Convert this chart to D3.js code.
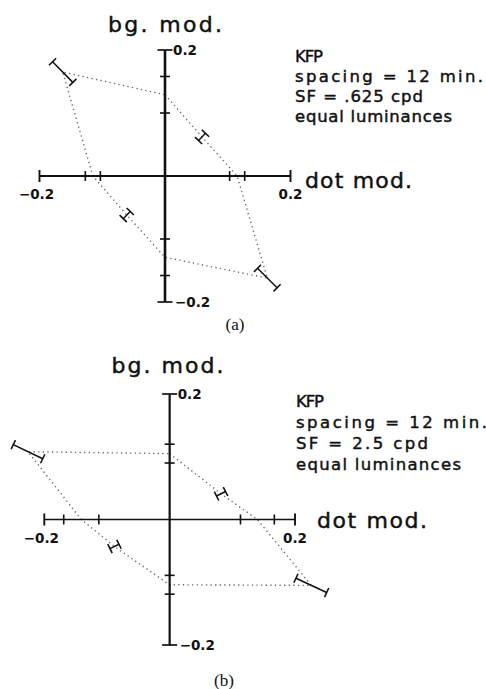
<!DOCTYPE html>
<html><head><meta charset="utf-8">
<script src="https://cdn.jsdelivr.net/npm/d3@7"></script>
<style>body{margin:0;background:#fff}</style>
</head><body>
<script>
// Threshold contours: dot modulation (x) against background modulation (y),
// measured along eight directions; err is the standard error along each direction.
const panelLabels = ["(a)", "(b)"];
const observer = "KFP";
const spacingLabel = "spacing = 12 min.";
const sfLabels = ["SF = .625 cpd", "SF = 2.5 cpd"];
const lumLabel = "equal luminances";
const xTitle = "dot mod.";
const yTitle = "bg. mod.";
const axisEnds = [-0.2, 0.2];

const dotModA = [0, 0.059, 0.115, 0.163, 0, -0.061, -0.115, -0.163];
const bgModA  = [0.129, 0.062, 0, -0.162, -0.129, -0.062, 0, 0.165];
const errA    = [0.029, 0.008, 0.012, 0.022, 0.029, 0.008, 0.012, 0.023];

const dotModB = [0, 0.082, 0.140, 0.226, 0, -0.088, -0.141, -0.226];
const bgModB  = [0.105, 0.041, 0, -0.105, -0.104, -0.043, 0, 0.108];
const errB    = [0.015, 0.008, 0.027, 0.027, 0.015, 0.008, 0.028, 0.026];

const W = 486, H = 689;
const svg = d3.select("body").append("svg").attr("width", W).attr("height", H);

const panels = [
  { xs: dotModA, ys: bgModA, es: errA, sf: sfLabels[0], cap: panelLabels[0],
    xr: [39.5, 290.5], yr: [302, 50], yAxisW: 2.6, xAxisW: 1.8,
    title: { x: 165, y: 32, len: 114 },
    note: { x: 295, y: 62, dy: 20, lens: [28, 188, 128, 157] },
    xt: { x: 305, y: 188, len: 107 },
    capPos: { x: 235, y: 330 } },
  { xs: dotModB, ys: bgModB, es: errB, sf: sfLabels[1], cap: panelLabels[1],
    xr: [44.3, 295], yr: [645, 394], yAxisW: 2.2, xAxisW: 1.6,
    title: { x: 167.5, y: 373, len: 112 },
    note: { x: 296, y: 407, dy: 21, lens: [28, 191, 132, 165] },
    xt: { x: 317, y: 528, len: 110 },
    capPos: { x: 224, y: 686 } }
];

const sans = "'DejaVu Sans', 'Noto Sans', sans-serif";
const ink = "#111";

panels.forEach(p => {
  const x = d3.scaleLinear().domain(axisEnds).range(p.xr);
  const y = d3.scaleLinear().domain(axisEnds).range(p.yr);
  const g = svg.append("g");
  const pts = p.xs.map((v, i) => ({ x: v, y: p.ys[i], e: p.es[i] }));

  // dotted contour through the eight thresholds
  g.append("path")
    .datum(pts)
    .attr("d", d3.line().x(d => x(d.x)).y(d => y(d.y)).curve(d3.curveLinearClosed))
    .attr("fill", "none")
    .attr("stroke", "#666")
    .attr("stroke-width", 1.4)
    .attr("stroke-dasharray", "1.3 3.3");

  // axes with end caps
  g.append("line").attr("x1", x(axisEnds[0])).attr("x2", x(axisEnds[1]))
    .attr("y1", y(0)).attr("y2", y(0))
    .attr("stroke", ink).attr("stroke-width", p.xAxisW);
  g.append("line").attr("x1", x(0)).attr("x2", x(0))
    .attr("y1", y(axisEnds[0])).attr("y2", y(axisEnds[1]))
    .attr("stroke", ink).attr("stroke-width", p.yAxisW);
  axisEnds.forEach(v => {
    g.append("line").attr("x1", x(v)).attr("x2", x(v))
      .attr("y1", y(0) - 6).attr("y2", y(0) + 6)
      .attr("stroke", ink).attr("stroke-width", 1.9);
    g.append("line").attr("x1", x(0) - 7.5).attr("x2", x(0) + 7.5)
      .attr("y1", y(v)).attr("y2", y(v))
      .attr("stroke", ink).attr("stroke-width", 1.7);
  });

  // error bars along each measurement direction, caps perpendicular
  pts.forEach(d => {
    const r = Math.hypot(d.x, d.y);
    const ux = d.x / r, uy = d.y / r;
    const a = [d.x - d.e * ux, d.y - d.e * uy];
    const b = [d.x + d.e * ux, d.y + d.e * uy];
    const onAxis = d.x === 0 || d.y === 0;
    const half = onAxis ? 5 : 5;
    // perpendicular in pixel space (y scale is inverted)
    const px = -uy, py = -ux;
    if (!onAxis) {
      g.append("line").attr("x1", x(a[0])).attr("y1", y(a[1]))
        .attr("x2", x(b[0])).attr("y2", y(b[1]))
        .attr("stroke", ink).attr("stroke-width", 1.5);
    }
    [a, b].forEach(e => {
      g.append("line")
        .attr("x1", x(e[0]) + px * half).attr("y1", y(e[1]) + py * half)
        .attr("x2", x(e[0]) - px * half).attr("y2", y(e[1]) - py * half)
        .attr("stroke", ink).attr("stroke-width", 1.6);
    });
  });

  // tick labels at the axis ends
  const lab = (t, tx, ty, anchor) => {
    g.append("text").text(t).attr("x", tx).attr("y", ty).attr("text-anchor", anchor)
      .attr("font-family", sans).attr("font-size", 13.5).attr("font-weight", "bold")
      .attr("fill", ink);
  };
  const fmt = v => (v < 0 ? "\u22120.2" : "0.2");
  lab(fmt(axisEnds[0]), x(axisEnds[0]) - 3, y(0) + 23, "middle");
  lab(fmt(axisEnds[1]), x(axisEnds[1]), y(0) + 23, "middle");
  lab(fmt(axisEnds[1]), x(0) + 8, y(axisEnds[1]) + 5, "start");
  lab(fmt(axisEnds[0]), x(0) + 10, y(axisEnds[0]) + 5, "start");

  // axis titles
  const heavy = s => s.attr("stroke", ink).attr("stroke-width", 0.45).attr("fill", ink);
  heavy(g.append("text").text(yTitle)
    .attr("x", p.title.x - p.title.len / 2).attr("y", p.title.y)
    .attr("textLength", p.title.len).attr("lengthAdjust", "spacing")
    .attr("font-family", sans).attr("font-size", 22));
  heavy(g.append("text").text(xTitle)
    .attr("x", p.xt.x).attr("y", p.xt.y)
    .attr("textLength", p.xt.len).attr("lengthAdjust", "spacing")
    .attr("font-family", sans).attr("font-size", 22));

  // condition notes
  [observer, spacingLabel, p.sf, lumLabel].forEach((t, i) => {
    heavy(g.append("text").text(t)
      .attr("x", p.note.x).attr("y", p.note.y + i * p.note.dy)
      .attr("textLength", p.note.lens[i]).attr("lengthAdjust", "spacing")
      .attr("font-family", sans).attr("font-size", 16.5));
  });

  // panel caption
  g.append("text").text(p.cap)
    .attr("x", p.capPos.x).attr("y", p.capPos.y).attr("text-anchor", "middle")
    .attr("font-family", "'Liberation Serif', 'Times New Roman', serif")
    .attr("font-size", 17).attr("fill", ink);
});
</script>
</body></html>
